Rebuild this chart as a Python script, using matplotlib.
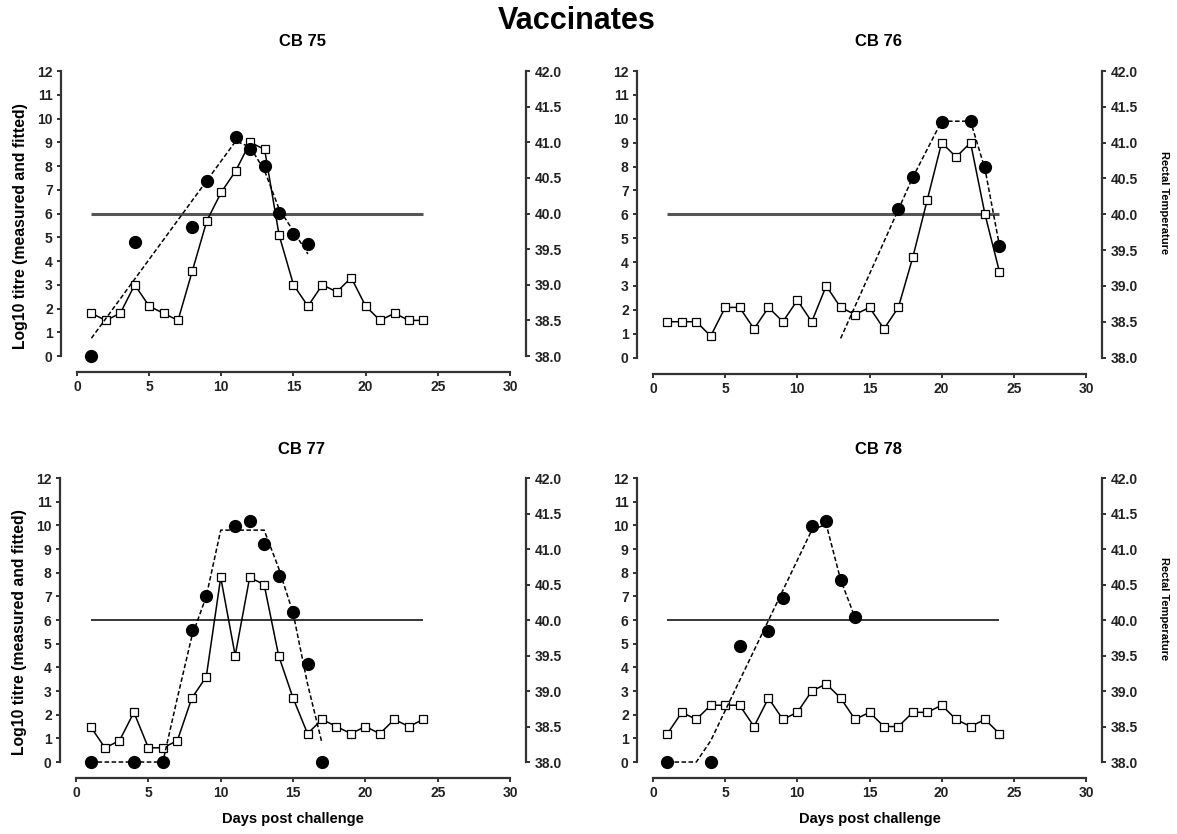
import matplotlib
matplotlib.use('Agg')
import matplotlib.pyplot as plt
from matplotlib.ticker import FormatStrFormatter

plt.rcParams['font.family'] = ['Liberation Sans', 'DejaVu Sans']
plt.rcParams['font.weight'] = 'bold'

# days post challenge for the daily rectal temperatures
temp_days = list(range(1, 25))

# CB 75
cb75_temp = [38.6, 38.5, 38.6, 39.0, 38.7, 38.6, 38.5, 39.2, 39.9, 40.3, 40.6, 41.0,
             40.9, 39.7, 39.0, 38.7, 39.0, 38.9, 39.1, 38.7, 38.5, 38.6, 38.5, 38.5]
cb75_titre_days = [1, 4, 8, 9, 11, 12, 13, 14, 15, 16]
cb75_titre = [0.0, 4.8, 5.45, 7.37, 9.24, 8.73, 8.0, 6.04, 5.14, 4.7]
cb75_fit_days = [1, 11, 12, 13, 14, 16]
cb75_fit = [0.75, 9.05, 8.8, 7.8, 6.2, 4.3]

# CB 76
cb76_temp = [38.5, 38.5, 38.5, 38.3, 38.7, 38.7, 38.4, 38.7, 38.5, 38.8, 38.5, 39.0,
             38.7, 38.6, 38.7, 38.4, 38.7, 39.4, 40.2, 41.0, 40.8, 41.0, 40.0, 39.2]
cb76_titre_days = [17, 18, 20, 22, 23, 24]
cb76_titre = [6.22, 7.58, 9.88, 9.92, 8.0, 4.69]
cb76_fit_days = [13, 17, 18, 20, 22, 23, 24]
cb76_fit = [0.8, 6.2, 7.55, 9.9, 9.9, 7.9, 4.7]

# CB 77
cb77_temp = [38.5, 38.2, 38.3, 38.7, 38.2, 38.2, 38.3, 38.9, 39.2, 40.6, 39.5, 40.6,
             40.5, 39.5, 38.9, 38.4, 38.6, 38.5, 38.4, 38.5, 38.4, 38.6, 38.5, 38.6]
cb77_titre_days = [1, 4, 6, 8, 9, 11, 12, 13, 14, 15, 16, 17]
cb77_titre = [0.0, 0.0, 0.0, 5.56, 7.0, 9.96, 10.2, 9.22, 7.87, 6.32, 4.14, 0.0]
cb77_fit_days = [1, 6, 7, 8, 9, 10, 13, 14, 15, 16, 17]
cb77_fit = [0.0, 0.0, 2.7, 5.3, 7.0, 9.8, 9.8, 8.2, 6.3, 3.3, 0.8]

# CB 78
cb78_temp = [38.4, 38.7, 38.6, 38.8, 38.8, 38.8, 38.5, 38.9, 38.6, 38.7, 39.0, 39.1,
             38.9, 38.6, 38.7, 38.5, 38.5, 38.7, 38.7, 38.8, 38.6, 38.5, 38.6, 38.4]
cb78_titre_days = [1, 4, 6, 8, 9, 11, 12, 13, 14]
cb78_titre = [0.0, 0.0, 4.89, 5.52, 6.93, 9.96, 10.17, 7.7, 6.11]
cb78_fit_days = [1, 3, 4, 11, 12, 13, 14]
cb78_fit = [0.0, 0.0, 0.9, 9.8, 10.05, 7.7, 6.1]

fever_threshold = 40.0

TICK_KW = dict(direction='out', length=3, width=1.3, labelsize=10, pad=3, colors='#222222')
SPINE_COLOR = '#333333'
OFFSET = 11.5  # spine offset in points


def draw_panel(rect, title, temp, titre_days, titre, fit_days, fit,
               left_label, right_label, bottom_label, thick_line, title_pad):
    ax = fig.add_axes(rect)
    ax2 = ax.twinx()
    # titre (left axis) drawn above the temperature axis
    ax.set_zorder(ax2.get_zorder() + 1)
    ax.patch.set_visible(False)

    # temperatures on the right axis
    if thick_line:
        ax2.hlines(fever_threshold, 1, 24, color='#555555', lw=2.2)
    else:
        ax2.hlines(fever_threshold, 1, 24, color='black', lw=1.1)
    ax2.plot(temp_days, temp, color='black', lw=1.1, marker='s', ms=5.3,
             mfc='white', mec='black', mew=0.9, clip_on=False)
    ax2.set_ylim(38, 42)
    ax2.set_yticks([38 + 0.5 * i for i in range(9)])
    ax2.yaxis.set_major_formatter(FormatStrFormatter('%.1f'))

    # measured and fitted titre
    ax.plot(fit_days, fit, color='black', lw=1.1, ls=(0, (3, 1.6)), clip_on=False)
    ax.plot(titre_days, titre, 'o', color='black', ms=8.5, clip_on=False)
    ax.set_xlim(0, 30)
    ax.set_ylim(0, 12)
    ax.set_xticks(range(0, 31, 5))
    ax.set_yticks(range(0, 13))

    for a in (ax, ax2):
        for s in a.spines.values():
            s.set_visible(False)
            s.set_color(SPINE_COLOR)
            s.set_linewidth(1.6)
    ax.spines['left'].set_visible(True)
    ax.spines['bottom'].set_visible(True)
    ax.spines['left'].set_position(('outward', OFFSET))
    ax.spines['bottom'].set_position(('outward', OFFSET))
    ax2.spines['right'].set_visible(True)
    ax2.spines['right'].set_position(('outward', OFFSET))
    ax.tick_params(**TICK_KW)
    ax2.tick_params(**TICK_KW)
    for lab in ax.get_xticklabels() + ax.get_yticklabels() + ax2.get_yticklabels():
        lab.set_fontweight('bold')

    ax.set_title(title, x=0.52, pad=title_pad, fontsize=12, fontweight='bold')
    if left_label:
        ax.set_ylabel('Log10 titre (measured and fitted)', fontsize=11.3, fontweight='bold')
        ax.yaxis.set_label_coords(-0.112, 0.456)
    if right_label:
        ax2.set_ylabel('Rectal Temperature', fontsize=8, fontweight='bold',
                       rotation=-90, va='center')
        ax2.yaxis.set_label_coords(1.18, 0.54)
    if bottom_label:
        ax.set_xlabel('Days post challenge', fontsize=10.5, fontweight='bold')
        ax.xaxis.set_label_coords(0.5, -0.175)
    return ax


fig = plt.figure(figsize=(11.77, 8.34), dpi=100)
fig.text(0.490, 0.965, 'Vaccinates', ha='center', va='baseline', fontsize=22, fontweight='bold')

draw_panel([0.0654, 0.5731, 0.3679, 0.3417], 'CB 75', cb75_temp, cb75_titre_days, cb75_titre,
           cb75_fit_days, cb75_fit, True, False, False, True, 18)
draw_panel([0.5548, 0.5713, 0.3679, 0.3435], 'CB 76', cb76_temp, cb76_titre_days, cb76_titre,
           cb76_fit_days, cb76_fit, False, True, False, True, 18)
draw_panel([0.0646, 0.0863, 0.3688, 0.3405], 'CB 77', cb77_temp, cb77_titre_days, cb77_titre,
           cb77_fit_days, cb77_fit, True, False, True, False, 17)
draw_panel([0.5548, 0.0863, 0.3679, 0.3405], 'CB 78', cb78_temp, cb78_titre_days, cb78_titre,
           cb78_fit_days, cb78_fit, False, True, True, False, 17)

fig.savefig('out.png', dpi=100)
